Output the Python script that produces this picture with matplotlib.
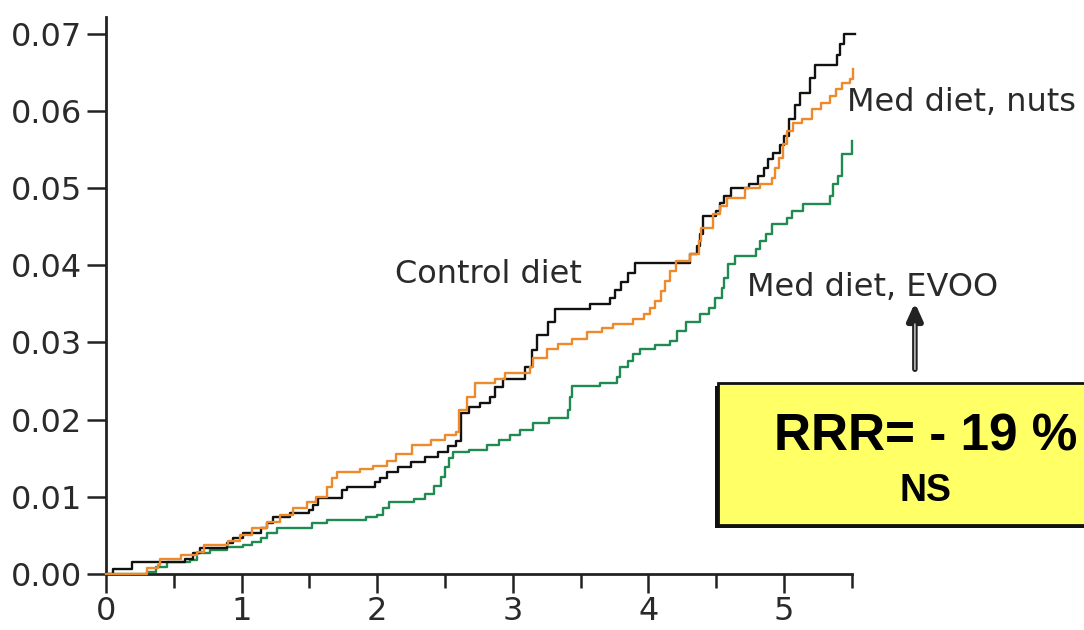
import matplotlib
matplotlib.use("Agg")
import matplotlib.pyplot as plt
from matplotlib.patches import Rectangle
from matplotlib.ticker import MultipleLocator

# cumulative incidence (years, proportion)
control_t = [0, 0.05, 0.19, 0.58, 0.64, 0.69, 0.89, 0.94, 1.01, 1.14, 1.19, 1.23, 1.36, 1.5, 1.53, 1.56,
             1.74, 1.78, 1.98, 2.02, 2.07, 2.15, 2.25, 2.35, 2.45, 2.52, 2.58, 2.62, 2.68, 2.76, 2.83, 2.87,
             2.93, 3.09, 3.14, 3.18, 3.26, 3.31, 3.57, 3.72, 3.75, 3.8, 3.85, 3.9, 4.31, 4.36, 4.38, 4.4,
             4.5, 4.53, 4.56, 4.61, 4.74, 4.81, 4.85, 4.88, 4.92, 4.97, 5.0, 5.04, 5.08, 5.12, 5.19, 5.23,
             5.39, 5.41, 5.44, 5.52]
control_y = [0, 0.0006, 0.0016, 0.002, 0.0027, 0.0034, 0.004, 0.0046, 0.0053, 0.0059, 0.0066, 0.0074,
             0.0079, 0.0083, 0.0089, 0.0098, 0.0109, 0.0113, 0.0119, 0.0125, 0.0132, 0.0138, 0.0145,
             0.0151, 0.0158, 0.0166, 0.0172, 0.0208, 0.0216, 0.0222, 0.0229, 0.0242, 0.0253, 0.0268,
             0.029, 0.0309, 0.0326, 0.0343, 0.035, 0.0358, 0.0368, 0.0378, 0.039, 0.0403, 0.0415, 0.0425,
             0.044, 0.0464, 0.047, 0.048, 0.049, 0.05, 0.0505, 0.0515, 0.0526, 0.0537, 0.0545, 0.0556,
             0.0567, 0.0589, 0.0608, 0.0623, 0.0642, 0.066, 0.0673, 0.0687, 0.0699, 0.0699]

nuts_t = [0, 0.3, 0.38, 0.4, 0.55, 0.67, 0.72, 0.9, 0.99, 1.08, 1.19, 1.28, 1.38, 1.48, 1.55, 1.63, 1.67,
          1.7, 1.87, 1.97, 2.07, 2.14, 2.26, 2.4, 2.5, 2.58, 2.6, 2.66, 2.72, 2.87, 2.94, 3.13, 3.15, 3.25,
          3.33, 3.44, 3.55, 3.66, 3.74, 3.89, 3.97, 4.01, 4.05, 4.09, 4.12, 4.16, 4.2, 4.31, 4.37, 4.39,
          4.48, 4.53, 4.58, 4.71, 4.82, 4.91, 4.93, 4.96, 4.99, 5.02, 5.07, 5.13, 5.21, 5.27, 5.34, 5.38,
          5.43, 5.49, 5.51]
nuts_y = [0, 0.0008, 0.0012, 0.002, 0.0025, 0.0029, 0.0037, 0.0043, 0.005, 0.0059, 0.0068, 0.0076,
          0.0085, 0.0093, 0.01, 0.0113, 0.0124, 0.0132, 0.0136, 0.014, 0.0146, 0.0155, 0.0167, 0.0174,
          0.018, 0.0184, 0.0212, 0.0229, 0.0247, 0.0253, 0.0261, 0.0268, 0.028, 0.0292, 0.0298, 0.0305,
          0.0313, 0.0319, 0.0324, 0.0331, 0.0337, 0.0345, 0.0354, 0.0367, 0.038, 0.0393, 0.0406, 0.0415,
          0.0432, 0.0448, 0.0466, 0.0477, 0.0487, 0.05, 0.0505, 0.0513, 0.0526, 0.0539, 0.0557, 0.0574,
          0.0584, 0.059, 0.0603, 0.061, 0.0619, 0.0628, 0.0636, 0.0641, 0.0654]

evoo_t = [0, 0.3, 0.37, 0.45, 0.62, 0.67, 0.77, 0.89, 1.01, 1.08, 1.14, 1.19, 1.26, 1.52, 1.63, 1.92, 2.0,
          2.04, 2.09, 2.27, 2.35, 2.42, 2.47, 2.5, 2.53, 2.56, 2.68, 2.81, 2.9, 2.98, 3.05, 3.15, 3.27, 3.41,
          3.42, 3.44, 3.64, 3.77, 3.79, 3.85, 3.89, 3.94, 4.05, 4.16, 4.21, 4.28, 4.38, 4.45, 4.49, 4.54,
          4.56, 4.59, 4.64, 4.79, 4.82, 4.87, 4.91, 5.02, 5.06, 5.14, 5.34, 5.36, 5.4, 5.43, 5.5]
evoo_y = [0, 0.0003, 0.0009, 0.0015, 0.0018, 0.0027, 0.0031, 0.0035, 0.0037, 0.0041, 0.0046, 0.0053,
          0.0059, 0.0066, 0.007, 0.0074, 0.0077, 0.0085, 0.0093, 0.0097, 0.0103, 0.0114, 0.0126, 0.0138,
          0.015, 0.0158, 0.016, 0.0167, 0.0173, 0.018, 0.0186, 0.0195, 0.0202, 0.0212, 0.0229, 0.0244,
          0.0248, 0.0255, 0.0268, 0.0276, 0.0285, 0.0292, 0.0297, 0.0302, 0.0315, 0.0326, 0.0337, 0.0345,
          0.0358, 0.0371, 0.0384, 0.0402, 0.0412, 0.0421, 0.0432, 0.0441, 0.0453, 0.0461, 0.047, 0.0479,
          0.049, 0.0505, 0.0515, 0.0544, 0.0561]

fig = plt.figure(figsize=(10.84, 6.3), dpi=100)
ax = fig.add_axes([0.0978, 0.0889, 0.688, 0.8846])

txt = "#2a2a2a"
ax.step(control_t, control_y, where="post", color="#111111", lw=1.7, clip_on=False, zorder=3)
ax.step(nuts_t, nuts_y, where="post", color="#ee8a2c", lw=1.7, clip_on=False, zorder=4)
ax.step(evoo_t, evoo_y, where="post", color="#1f8a52", lw=1.7, clip_on=False, zorder=2)

ax.set_xlim(0, 5.5)
ax.set_ylim(0, 0.0722)
ax.xaxis.set_major_locator(MultipleLocator(1))
ax.xaxis.set_minor_locator(MultipleLocator(0.5))
ax.set_yticks([0, 0.01, 0.02, 0.03, 0.04, 0.05, 0.06, 0.07])
ax.set_yticklabels(["0.00", "0.01", "0.02", "0.03", "0.04", "0.05", "0.06", "0.07"])
ax.spines["top"].set_visible(False)
ax.spines["right"].set_visible(False)
ax.spines["left"].set_linewidth(2)
ax.spines["bottom"].set_linewidth(2)
ax.spines["left"].set_color("#222222")
ax.spines["bottom"].set_color("#222222")
ax.tick_params(axis="y", length=14, width=1.8, pad=3, labelsize=23, labelcolor=txt, color="#222222")
ax.tick_params(axis="x", which="major", length=14, width=1.8, pad=2, labelsize=23, labelcolor=txt, color="#222222")
ax.tick_params(axis="x", which="minor", length=10, width=1.8, color="#222222")

# curve labels
ax.text(2.13, 0.0377, "Control diet", fontsize=23, color=txt, va="baseline")
ax.text(5.465, 0.0600, "Med diet, nuts", fontsize=23, color=txt, va="baseline", clip_on=False)
ax.text(4.73, 0.0360, "Med diet, EVOO", fontsize=23, color=txt, va="baseline", clip_on=False)

# yellow result box with shadow
fig.patches.append(Rectangle((0.6595, 0.162), 0.36, 0.225, transform=fig.transFigure,
                             facecolor="#111111", edgecolor="none", zorder=5))
fig.patches.append(Rectangle((0.6624, 0.1667), 0.36, 0.225, transform=fig.transFigure,
                             facecolor="#ffff66", edgecolor="#111111", lw=2, zorder=6))
fig.text(0.854, 0.2857, "RRR= - 19 %", fontsize=37, fontweight="bold", family="Liberation Sans",
         ha="center", va="baseline", color="black", zorder=7)
fig.text(0.854, 0.2048, "NS", fontsize=27, fontweight="bold", family="Liberation Sans",
         ha="center", va="baseline", color="black", zorder=7)

# arrow from the box up to the EVOO label
ax.annotate("", xy=(0.844, 0.524), xytext=(0.844, 0.4095), xycoords="figure fraction",
            textcoords="figure fraction",
            arrowprops=dict(arrowstyle="-|>,head_width=0.45,head_length=1.0", lw=4, color="#222222"))
ax.annotate("", xy=(0.844, 0.49), xytext=(0.844, 0.4095), xycoords="figure fraction",
            textcoords="figure fraction",
            arrowprops=dict(arrowstyle="-", lw=1.2, color="#bbbbbb"))

fig.savefig("out.png", dpi=100)
